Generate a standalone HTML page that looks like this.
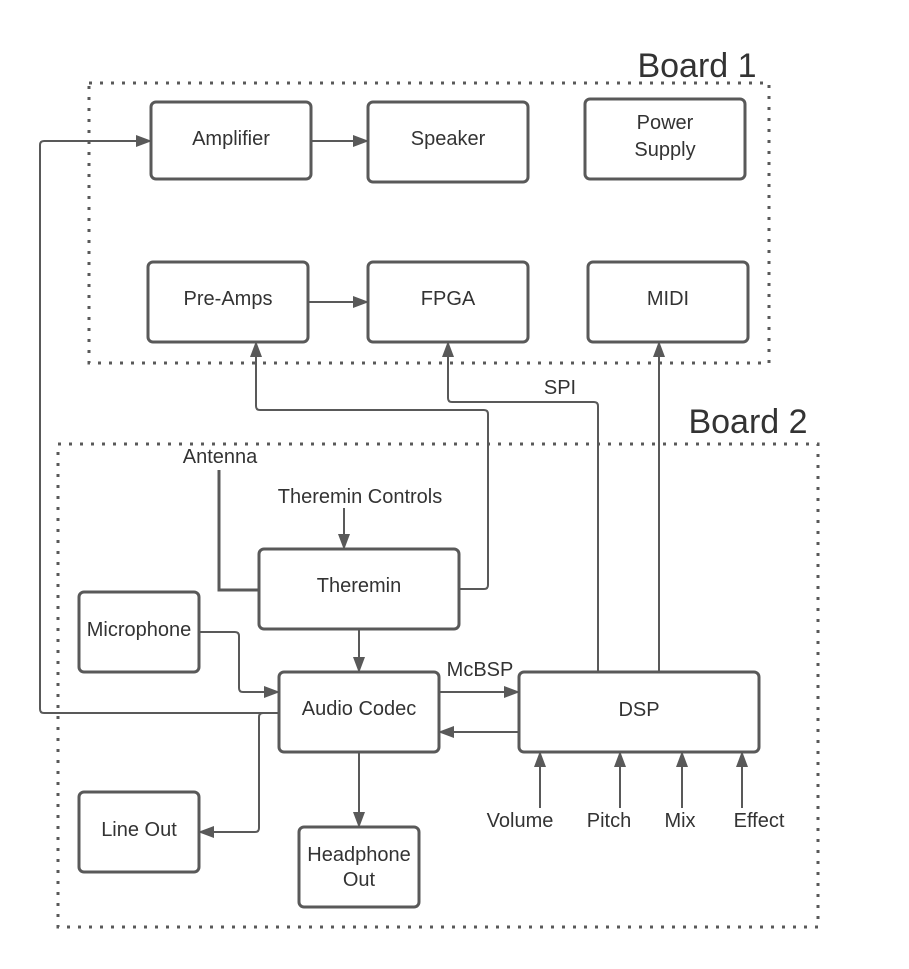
<!DOCTYPE html>
<html><head><style>body{margin:0;background:#fff}svg{display:block}</style></head><body>
<svg width="909" height="969" xmlns="http://www.w3.org/2000/svg" font-family="Liberation Sans, sans-serif" fill="#333">
<defs><marker id="a" markerWidth="16" markerHeight="12" refX="15" refY="6" orient="auto" markerUnits="userSpaceOnUse"><path d="M0,0 L16,6 L0,12 z" fill="#595959"/></marker></defs>
<g fill="none" stroke="#595959" stroke-width="3" stroke-dasharray="3 8">
<rect x="89" y="83" width="680" height="280"/>
<rect x="58" y="444" width="760" height="483"/>
</g>
<text x="697" y="77" font-size="34" text-anchor="middle">Board 1</text>
<text x="748" y="433" font-size="34" text-anchor="middle">Board 2</text>
<g fill="#fff" stroke="#595959" stroke-width="3">
<rect x="151" y="102" width="160" height="77" rx="5"/>
<rect x="368" y="102" width="160" height="80" rx="5"/>
<rect x="585" y="99" width="160" height="80" rx="5"/>
<rect x="148" y="262" width="160" height="80" rx="5"/>
<rect x="368" y="262" width="160" height="80" rx="5"/>
<rect x="588" y="262" width="160" height="80" rx="5"/>
<rect x="259" y="549" width="200" height="80" rx="5"/>
<rect x="79" y="592" width="120" height="80" rx="5"/>
<rect x="279" y="672" width="160" height="80" rx="5"/>
<rect x="519" y="672" width="240" height="80" rx="5"/>
<rect x="79" y="792" width="120" height="80" rx="5"/>
<rect x="299" y="827" width="120" height="80" rx="5"/>
</g>
<g fill="none" stroke="#595959" stroke-width="2" marker-end="url(#a)">
<path d="M311 141 H368"/>
<path d="M279 713 H44 Q40 713 40 709 V145 Q40 141 44 141 H151"/>
<path d="M308 302 H368"/>
<path d="M459 589 H484 Q488 589 488 585 V414 Q488 410 484 410 H260 Q256 410 256 406 V342"/>
<path d="M598 672 V406 Q598 402 594 402 H452 Q448 402 448 398 V342"/>
<path d="M659 672 V342"/>
<path d="M344 508 V549"/>
<path d="M359 629 V672"/>
<path d="M199 632 H235 Q239 632 239 636 V688 Q239 692 243 692 H279"/>
<path d="M439 692 H519"/>
<path d="M519 732 H439"/>
<path d="M279 713 H263 Q259 713 259 717 V828 Q259 832 255 832 H199"/>
<path d="M359 752 V827"/>
<path d="M540 808 V752"/><path d="M620 808 V752"/><path d="M682 808 V752"/><path d="M742 808 V752"/>
</g>
<path d="M219 470 V590 H259" fill="none" stroke="#595959" stroke-width="3"/>
<g font-size="20" text-anchor="middle">
<text x="231" y="145">Amplifier</text>
<text x="448" y="145">Speaker</text>
<text x="665" y="129">Power</text><text x="665" y="156">Supply</text>
<text x="228" y="305">Pre-Amps</text>
<text x="448" y="305">FPGA</text>
<text x="668" y="305">MIDI</text>
<text x="359" y="592">Theremin</text>
<text x="139" y="636">Microphone</text>
<text x="359" y="715">Audio Codec</text>
<text x="639" y="716">DSP</text>
<text x="139" y="836">Line Out</text>
<text x="359" y="861">Headphone</text><text x="359" y="886">Out</text>
<text x="220" y="463">Antenna</text>
<text x="360" y="503">Theremin Controls</text>
<text x="560" y="394">SPI</text>
<text x="480" y="676">McBSP</text>
<text x="520" y="827">Volume</text>
<text x="609" y="827">Pitch</text>
<text x="680" y="827">Mix</text>
<text x="759" y="827">Effect</text>
</g>
</svg>
</body></html>
